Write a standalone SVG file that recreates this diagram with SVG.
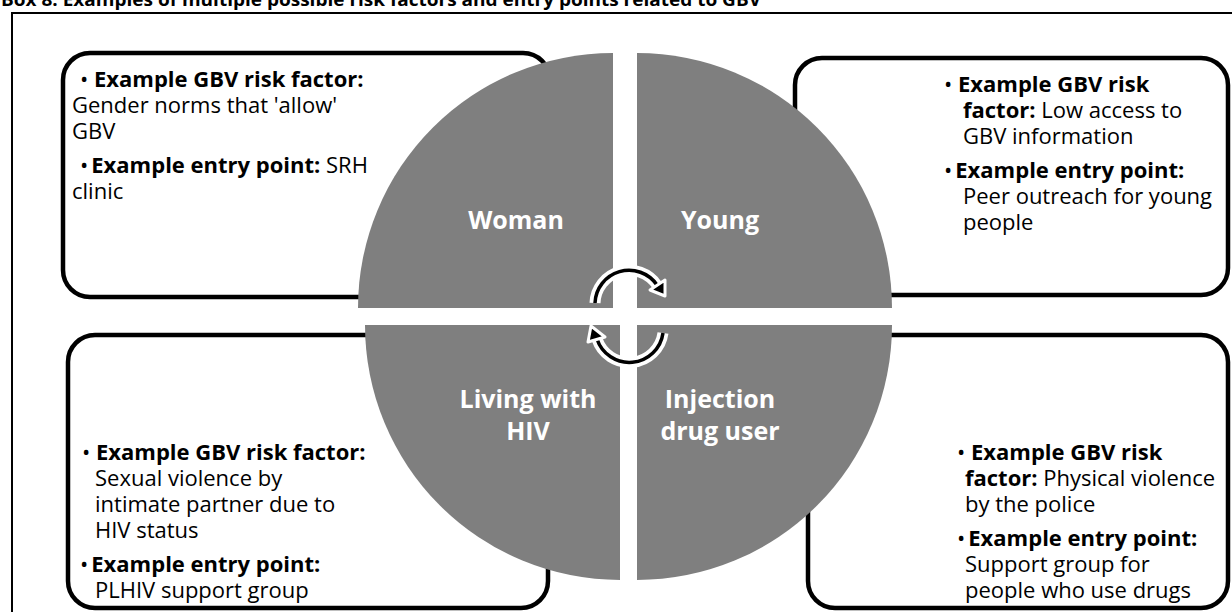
<svg xmlns="http://www.w3.org/2000/svg" width="1232" height="612" viewBox="0 0 1232 612">
<style>
  .frame{fill:none;stroke:#000;stroke-width:2}
  .box{fill:#fff;stroke:#000;stroke-width:4.5}
  .quad{fill:#7f7f7f}
  .t{font-family:"Open Sans","Liberation Sans",sans-serif;font-size:22px;fill:#000}
  .b{font-weight:700}
  .ql{font-family:"Open Sans","Liberation Sans",sans-serif;font-size:25px;font-weight:700;fill:#fff;text-anchor:middle}
  .title{font-family:"Open Sans","Liberation Sans",sans-serif;font-size:18px;font-weight:700;fill:#000}
  .halo{fill:none;stroke:#fff;stroke-width:11}
  .arc{fill:none;stroke:#000;stroke-width:3.5}
  .head{fill:#000;stroke:#fff;stroke-width:3;stroke-linejoin:round}
</style>
<rect width="1232" height="612" fill="#fff"/>
<text class="title" x="1" y="6" textLength="760" lengthAdjust="spacingAndGlyphs">Box 8: Examples of multiple possible risk factors and entry points related to GBV</text>
<path class="frame" d="M12,612 L12,13 L1232,13"/>

<g id="box-tl">
  <rect class="box" x="63" y="53" width="487" height="244" rx="27" ry="27"/>
  <text class="t" x="80" y="87">• <tspan class="b">Example GBV risk factor:</tspan></text>
  <text class="t" x="72" y="113">Gender norms that 'allow'</text>
  <text class="t" x="72" y="139">GBV</text>
  <text class="t" x="80" y="173">•<tspan class="b" dx="3">Example entry point:</tspan> SRH</text>
  <text class="t" x="72" y="199">clinic</text>
</g>
<g id="box-tr">
  <rect class="box" x="795" y="58" width="433" height="237" rx="27" ry="27"/>
  <text class="t" x="944" y="92">• <tspan class="b">Example GBV risk</tspan></text>
  <text class="t" x="963" y="118"><tspan class="b">factor:</tspan> Low access to</text>
  <text class="t" x="963" y="144">GBV information</text>
  <text class="t" x="944" y="178">•<tspan class="b" dx="3">Example entry point:</tspan></text>
  <text class="t" x="963" y="204">Peer outreach for young</text>
  <text class="t" x="963" y="230">people</text>
</g>
<g id="box-bl">
  <rect class="box" x="68" y="335" width="480" height="273" rx="27" ry="27"/>
  <text class="t" x="82" y="460">• <tspan class="b">Example GBV risk factor:</tspan></text>
  <text class="t" x="95" y="486">Sexual violence by</text>
  <text class="t" x="95" y="512">intimate partner due to</text>
  <text class="t" x="95" y="538">HIV status</text>
  <text class="t" x="80" y="572">•<tspan class="b" dx="3">Example entry point:</tspan></text>
  <text class="t" x="95" y="598">PLHIV support group</text>
</g>
<g id="box-br">
  <rect class="box" x="808" y="335" width="420" height="273" rx="27" ry="27"/>
  <text class="t" x="957" y="460">• <tspan class="b">Example GBV risk</tspan></text>
  <text class="t" x="965" y="486"><tspan class="b">factor:</tspan> Physical violence</text>
  <text class="t" x="965" y="512">by the police</text>
  <text class="t" x="957" y="546">•<tspan class="b" dx="3">Example entry point:</tspan></text>
  <text class="t" x="965" y="572">Support group for</text>
  <text class="t" x="965" y="598">people who use drugs</text>
</g>

<g id="q-woman">
  <path class="quad" d="M613,308 L358,308 A255,255 0 0 1 613,53 Z"/>
  <text class="ql" x="516" y="229">Woman</text>
</g>
<g id="q-young">
  <path class="quad" d="M637,308 L637,53 A255,255 0 0 1 892,308 Z"/>
  <text class="ql" x="720" y="229">Young</text>
</g>
<g id="q-hiv">
  <path class="quad" d="M620,325 L620,580 A255,255 0 0 1 365,325 Z"/>
  <text class="ql" x="528" y="408">Living with</text>
  <text class="ql" x="528" y="440">HIV</text>
</g>
<g id="q-idu">
  <path class="quad" d="M637,325 L892,325 A255,255 0 0 1 637,580 Z"/>
  <text class="ql" x="720" y="408">Injection</text>
  <text class="ql" x="720" y="440">drug user</text>
</g>

<g id="connectors">
  <path class="halo" d="M595,303 A34,34 0 0 1 657,285"/>
  <path class="arc" d="M595,303 A34,34 0 0 1 657,285"/>
  <polygon class="head" points="665,296 665,280 650,290"/>
  <path class="halo" d="M663,333 A34,34 0 0 1 597,339"/>
  <path class="arc" d="M663,333 A34,34 0 0 1 597,339"/>
  <polygon class="head" points="591,326 588,342 605,337"/>
</g>
</svg>
